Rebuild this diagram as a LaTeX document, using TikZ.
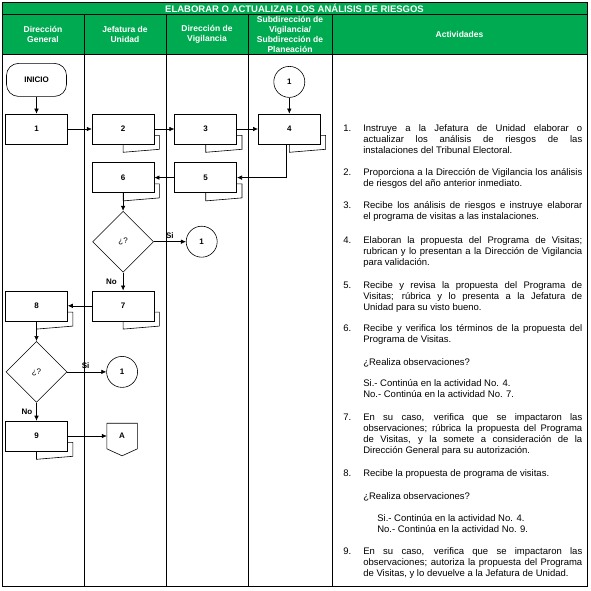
\documentclass[tikz,border=0pt]{standalone}
\usepackage{fontspec}
\setmainfont{Liberation Sans}
\usepackage{xcolor}
\usetikzlibrary{positioning,arrows.meta,shapes.geometric}
\definecolor{verdecab}{RGB}{0,170,80}
\newcommand{\doctail}[1]{\draw ([yshift=9pt]#1.south east) -- ++(5pt,0pt) -- ([shift={(5pt,-5pt)}]#1.south east) -- ([yshift=-8pt]#1.south) -- (#1.south);}
\newcommand{\acttext}[1]{\parbox[t]{219pt}{#1}}

\begin{document}
\begin{tikzpicture}[x=1pt, y=-1pt, line width=0.6pt, >={Latex[length=5pt,width=4.5pt]},
  every node/.style={font=\fontsize{8}{9.5}\selectfont\bfseries},
  cab/.style={text=white, align=center, font=\fontsize{8.5}{10}\selectfont\bfseries},
  proc/.style={draw, minimum width=62pt, minimum height=30pt, inner sep=0pt},
  inicio/.style={draw, rounded corners=12pt, minimum width=60pt, minimum height=33pt, inner sep=0pt},
  decision/.style={draw, diamond, minimum width=61pt, minimum height=61pt, inner sep=0pt, font=\fontsize{8}{9}\selectfont},
  conector/.style={draw, circle, minimum size=31pt, inner sep=0pt},
  fuera/.style={minimum width=30pt, minimum height=25pt, inner sep=0pt},
  lbl/.style={inner sep=1pt},
  num/.style={anchor=base west, inner sep=0pt, font=\fontsize{9.5}{11}\selectfont},
  act/.style={anchor=base west, inner sep=0pt, font=\fontsize{9.5}{11}\selectfont}]
  \useasboundingbox (0,0) rectangle (590,591);
  \fill[verdecab] (2,2) rectangle (587,54);
  \draw[line width=0.9pt] (2,2) rectangle (587,586);
  \draw[line width=0.9pt] (2,14) -- (587,14) (2,54) -- (587,54);
  \foreach \x in {84,166,248,332} \draw[line width=0.8pt] (\x,14) -- (\x,586);
  \node[cab, font=\fontsize{9.5}{10}\selectfont\bfseries] (titulo) at (294.5,8) {ELABORAR O ACTUALIZAR LOS ANÁLISIS DE RIESGOS};
  \node[cab] (hdg) at (43,34) {Dirección\\General};
  \node[cab] (hju) at (125,34) {Jefatura de\\Unidad};
  \node[cab] (hdv) at (207,34) {Dirección de\\Vigilancia};
  \node[cab] (hsv) at (290,34) {Subdirección de\\Vigilancia/\\Subdirección de\\Planeación};
  \node[cab] (hact) at (459.5,34) {Actividades};

  \node[proc] (b1) at (36.5,129) {1};
  \node[proc, right=24pt of b1] (b2) {2};
  \node[proc, right=20pt of b2] (b3) {3};
  \node[proc, right=21pt of b3] (b4) {4};
  \node[proc, below=18pt of b3] (b5) {5};
  \node[proc, below=18pt of b2] (b6) {6};
  \node[decision, below=18pt of b6] (d1) {¿?};
  \node[conector, right=32pt of d1] (c1) {1};
  \node[proc, below=18pt of d1] (b7) {7};
  \node[proc, left=24pt of b7] (b8) {8};
  \node[decision, below=20pt of b8] (d2) {¿?};
  \node[conector, right=39pt of d2] (c2) {1};
  \node[proc, below=18pt of d2] (b9) {9};
  \node[fuera, right=39pt of b9] (offA) {A};
  \node[inicio, above=17pt of b1] (ini) {INICIO};
  \node[conector, above=16pt of b4] (c0) {1};
  \foreach \b in {b2,b3,b4,b5,b6,b7,b8,b9} {\doctail{\b}}
  \draw (offA.north west) -- (offA.north east) -- (offA.south east) -- ([yshift=-7pt]offA.south) -- (offA.south west) -- cycle;

  \draw[->] (ini) -- (b1);
  \draw[->] (c0) -- (b4);
  \draw[->] (b1) -- (b2);
  \draw[->] (b2) -- (b3);
  \draw[->] (b3) -- (b4);
  \draw[->] ([xshift=-3pt]b4.south) |- (b5);
  \draw[->] (b5) -- (b6);
  \draw[->] (b6) -- (d1);
  \draw[->] (d1) -- node[lbl, above=2pt, pos=0.5] {Si} (c1);
  \draw[->] (d1) -- node[lbl, left=5pt] {No} (b7);
  \draw[->] (b7) -- (b8);
  \draw[->] (b8) -- (d2);
  \draw[->] (d2) -- node[lbl, above=2pt, pos=0.47] {Si} (c2);
  \draw[->] (d2) -- node[lbl, left=3pt] {No} (b9);
  \draw[->] (b9) -- (offA);

  \node[num] (n1) at (343,131.5) {1.};
  \node[act] (t1) at (363,131.5) {\acttext{Instruye a la Jefatura de Unidad elaborar o\linebreak actualizar los análisis de riesgos de las\linebreak instalaciones del Tribunal Electoral.}};
  \node[num] (n2) at (343,175.5) {2.};
  \node[act] (t2) at (363,175.5) {\acttext{Proporciona a la Dirección de Vigilancia los análisis\linebreak de riesgos del año anterior inmediato.}};
  \node[num] (n3) at (343,208.5) {3.};
  \node[act] (t3) at (363,208.5) {\acttext{Recibe los análisis de riesgos e instruye elaborar\linebreak el programa de visitas a las instalaciones.}};
  \node[num] (n4) at (343,243.5) {4.};
  \node[act] (t4) at (363,243.5) {\acttext{Elaboran la propuesta del Programa de Visitas;\linebreak rubrican y lo presentan a la Dirección de Vigilancia\linebreak para validación.}};
  \node[num] (n5) at (343,288.5) {5.};
  \node[act] (t5) at (363,288.5) {\acttext{Recibe y revisa la propuesta del Programa de\linebreak Visitas; rúbrica y lo presenta a la Jefatura de\linebreak Unidad para su visto bueno.}};
  \node[num] (n6) at (343,331.5) {6.};
  \node[act] (t6) at (363,331.5) {\acttext{Recibe y verifica los términos de la propuesta del\linebreak Programa de Visitas.}};
  \node[act] (r6) at (363,365.5) {\acttext{¿Realiza observaciones?}};
  \node[act] (s6) at (363,386.5) {\acttext{Si.- Continúa en la actividad No. 4.\\No.- Continúa en la actividad No. 7.}};
  \node[num] (n7) at (343,420.5) {7.};
  \node[act] (t7) at (363,420.5) {\acttext{En su caso, verifica que se impactaron las\linebreak observaciones; rúbrica la propuesta del Programa\linebreak de Visitas, y la somete a consideración de la\linebreak Dirección General para su autorización.}};
  \node[num] (n8) at (343,476.5) {8.};
  \node[act] (t8) at (363,476.5) {\acttext{Recibe la propuesta de programa de visitas.}};
  \node[act] (r8) at (363,499.5) {\acttext{¿Realiza observaciones?}};
  \node[act] (s8) at (377,521.5) {\acttext{Si.- Continúa en la actividad No. 4.\\No.- Continúa en la actividad No. 9.}};
  \node[num] (n9) at (343,554.5) {9.};
  \node[act] (t9) at (363,554.5) {\acttext{En su caso, verifica que se impactaron las\linebreak observaciones; autoriza la propuesta del Programa\linebreak de Visitas, y lo devuelve a la Jefatura de Unidad.}};
\end{tikzpicture}
\end{document}
